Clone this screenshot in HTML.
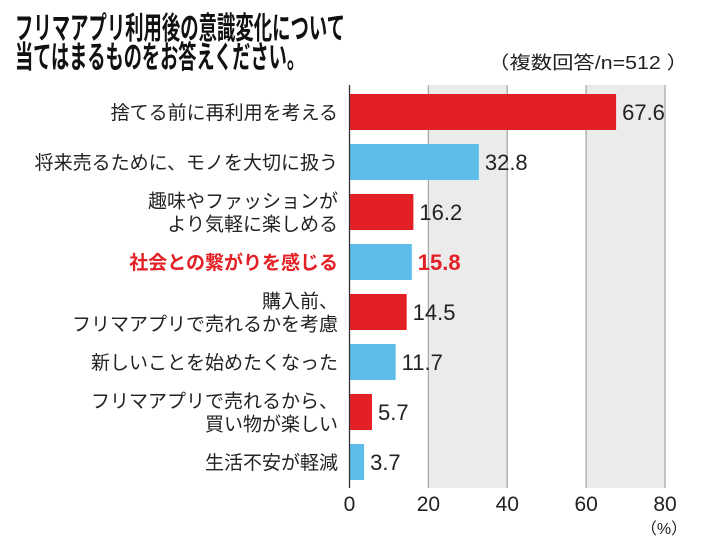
<!DOCTYPE html>
<html><head><meta charset="utf-8">
<style>
html,body{margin:0;padding:0;background:#fff;}
svg{display:block;font-family:"Liberation Sans","Noto Sans CJK JP",sans-serif;}
</style></head>
<body>
<svg id="chart" width="710" height="546" viewBox="0 0 710 546">
  <text x="15" y="39" font-size="31" font-weight="bold" fill="#111" textLength="330" lengthAdjust="spacingAndGlyphs">フリマアプリ利用後の意識変化について</text>
  <text x="15" y="68" font-size="31" font-weight="bold" fill="#111" textLength="290" lengthAdjust="spacingAndGlyphs">当てはまるものをお答えください。</text>
  <text x="688" y="69" font-size="18" fill="#222" text-anchor="end" textLength="200" lengthAdjust="spacingAndGlyphs">（複数回答/n=512 ）</text>
  <g id="grid"></g>
  <g id="bars"></g>
  <g id="labels"></g>
  <g id="ticks"></g>
  <text x="664" y="534" font-size="16" fill="#222" text-anchor="middle">（%）</text>
</svg>
<script>
const categories = [
  ["捨てる前に再利用を考える"],
  ["将来売るために、モノを大切に扱う"],
  ["趣味やファッションが","より気軽に楽しめる"],
  ["社会との繋がりを感じる"],
  ["購入前、","フリマアプリで売れるかを考慮"],
  ["新しいことを始めたくなった"],
  ["フリマアプリで売れるから、","買い物が楽しい"],
  ["生活不安が軽減"]
];
const values = [67.6, 32.8, 16.2, 15.8, 14.5, 11.7, 5.7, 3.7];
const valueLabels = ["67.6","32.8","16.2","15.8","14.5","11.7","5.7","3.7"];
const tickValues = [0, 20, 40, 60, 80];
const tickLabels = ["0","20","40","60","80"];

const NS = "http://www.w3.org/2000/svg";
const x0 = 349.5, x1 = 665, plotTop = 85, plotBottom = 488;
const xs = v => x0 + (v / 80) * (x1 - x0);
const yc = i => 112 + i * 50;
const barH = 36;
function mk(tag, attrs, parent){const e=document.createElementNS(NS,tag);for(const k in attrs)e.setAttribute(k,attrs[k]);parent.appendChild(e);return e;}

const grid = document.getElementById('grid');
for (let i = 0; i < tickValues.length - 1; i++) {
  if (i % 2 === 1) {
    const r = mk('rect',{x:xs(tickValues[i]),y:plotTop,width:xs(tickValues[i+1])-xs(tickValues[i]),height:plotBottom-plotTop,fill:'#ecebec'},grid);
    
    
  }
}
tickValues.forEach((t, i) => {
  if (i > 0) {
    const l = mk('line',{x1:xs(t),x2:xs(t),y1:plotTop,y2:plotBottom,stroke:'#aaa','stroke-width':1.3},grid);
    
    
  }
});

const bars = document.getElementById('bars');
const labels = document.getElementById('labels');
values.forEach((v, i) => {
  const b = mk('rect',{x:x0,y:yc(i)-barH/2,width:xs(v)-x0,height:barH,fill:i%2===0?'#e32026':'#5cbde9'},bars);
  
  
  const hl = i === 3;
  const vt = mk('text',{x:xs(v)+6,y:yc(i)+8,'font-size':22,fill:hl?'#e32026':'#222','font-weight':hl?'bold':'normal'},bars);
  vt.textContent = valueLabels[i];
  
  
  const lines = categories[i];
  lines.forEach((ln, j) => {
    const y = yc(i) + 7 + (j - (lines.length - 1) / 2) * 23;
    const t = mk('text',{x:338,y:y,'font-size':19,'text-anchor':'end',fill:hl?'#e32026':'#222','font-weight':hl?'bold':'normal'},labels);
    t.textContent = ln;
    
    
  });
});
const axis = mk('line',{x1:x0,x2:x0,y1:plotTop,y2:plotBottom,stroke:'#333','stroke-width':1.3},bars);



const ticks = document.getElementById('ticks');
tickValues.forEach((t, i) => {
  const e = mk('text',{x:xs(t),y:511,'font-size':21,'text-anchor':'middle',fill:'#222'},ticks);
  e.textContent = tickLabels[i];
  
  
});
</script>
</body></html>
